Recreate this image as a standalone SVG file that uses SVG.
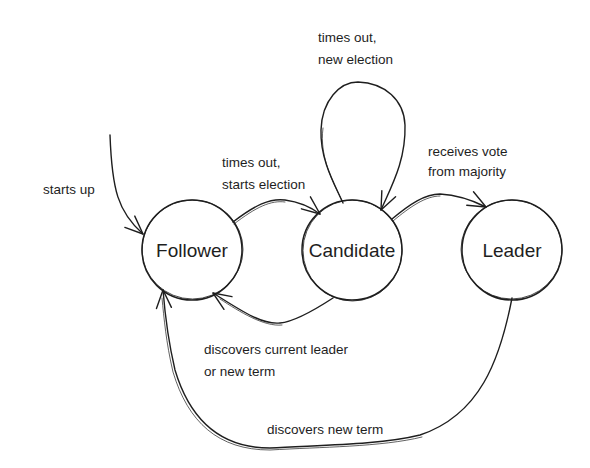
<svg xmlns="http://www.w3.org/2000/svg" width="590" height="468" viewBox="0 0 590 468">
<style>
.node{fill:none;stroke:#1e1e1e;stroke-width:1.5}
.node2{fill:none;stroke:#1e1e1e;stroke-width:0.8}
.lbl{font-family:"Liberation Sans",Arial,sans-serif;font-size:19px;fill:#1e1e1e;text-anchor:middle;dominant-baseline:central}
.txt{font-family:"Liberation Sans",Arial,sans-serif;font-size:13.5px;fill:#1e1e1e}
.edge{fill:none;stroke:#1e1e1e;stroke-width:1.4;stroke-linecap:round}
.edge2{fill:none;stroke:#1e1e1e;stroke-width:0.7;stroke-linecap:round}
</style>
<defs>
<marker id="arr" markerUnits="userSpaceOnUse" markerWidth="24" markerHeight="24" refX="0" refY="0" viewBox="-20 -12 24 24" orient="auto" overflow="visible">
<path d="M-18 -8 L0 0 L-18 7" fill="none" stroke="#1e1e1e" stroke-width="1.4" stroke-linecap="round" stroke-linejoin="round"/>
</marker>
</defs>
<rect width="590" height="468" fill="#ffffff"/>
<g id="follower">
<circle class="node" cx="192" cy="250" r="50"/>
<ellipse class="node2" cx="192.5" cy="249.5" rx="50.5" ry="49.5"/>
<text class="lbl" x="192" y="250">Follower</text>
</g>
<g id="candidate">
<circle class="node" cx="352" cy="250" r="50"/>
<ellipse class="node2" cx="352.5" cy="250.5" rx="49.5" ry="50.5"/>
<text class="lbl" x="352" y="250">Candidate</text>
</g>
<g id="leader">
<circle class="node" cx="512" cy="250" r="50"/>
<ellipse class="node2" cx="511.5" cy="249.5" rx="50.5" ry="49.5"/>
<text class="lbl" x="512" y="250">Leader</text>
</g>
<g id="connectors">
<path class="edge" d="M110 135 C112 190 118 212 143 234" marker-end="url(#arr)"/>
<path class="edge" d="M233 222 C255 205 270 198 285 200 C300 202 312 208 320 214" marker-end="url(#arr)"/>
<path class="edge2" d="M234 224 C256 207 271 200 285 202"/>
<path class="edge" d="M343 203 C335 185 320 160 321 130 C322 100 340 82 358 82 C385 83 404 100 405 125 C406 160 392 185 381 210" marker-end="url(#arr)"/>
<path class="edge2" d="M342 201 C334 183 319 158 323 128"/>
<path class="edge" d="M392 219 C410 204 425 194 440 194 C458 195 472 200 486 207" marker-end="url(#arr)"/>
<path class="edge2" d="M393 221 C411 206 426 196 440 196"/>
<path class="edge" d="M333 298 C310 313 292 322 280 323 C262 325 240 310 213 293" marker-end="url(#arr)"/>
<path class="edge2" d="M282 325 C264 327 240 312 220 299"/>
<path class="edge" d="M512 298 C500 360 480 415 420 435 C380 445 320 445 270 448 C220 448 190 420 175 370 C168 340 165 315 163 290" marker-end="url(#arr)"/>
<path class="edge2" d="M422 437 C382 447 320 447 270 450 C218 450 188 422 173 372 C166 342 164 318 162 298"/>
</g>
<g id="labels">
<text class="txt" x="318" y="42">times out,</text>
<text class="txt" x="318" y="64">new election</text>
<text class="txt" x="428" y="156">receives vote</text>
<text class="txt" x="428" y="176">from majority</text>
<text class="txt" x="222" y="167">times out,</text>
<text class="txt" x="222" y="189">starts election</text>
<text class="txt" x="43" y="194">starts up</text>
<text class="txt" x="204" y="354">discovers current leader</text>
<text class="txt" x="204" y="376">or new term</text>
<text class="txt" x="267" y="434">discovers new term</text>
</g>
</svg>
